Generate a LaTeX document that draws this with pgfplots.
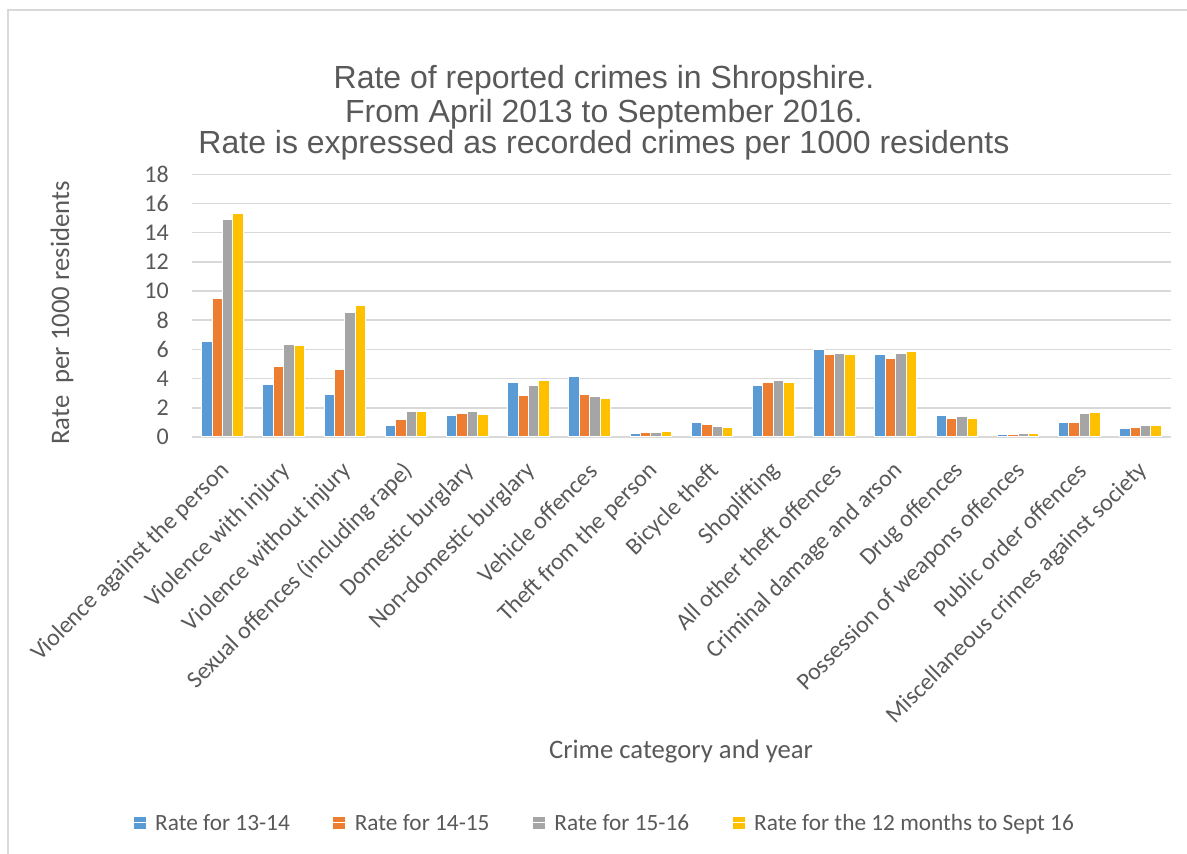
\documentclass[border=0pt]{standalone}
\usepackage{pgfplots}
\pgfplotsset{compat=1.18}
\usepackage{fontspec}
\setmainfont{Carlito}
\newfontfamily\titlefont{Liberation Sans}
\definecolor{cblue}{HTML}{5B9BD5}
\definecolor{corange}{HTML}{ED7D31}
\definecolor{cgray}{HTML}{A5A5A5}
\definecolor{cgold}{HTML}{FFC000}
\definecolor{gridc}{HTML}{D9D9D9}
\definecolor{txt}{HTML}{595959}
\begin{document}
\begin{tikzpicture}[x=1bp,y=1bp]
\path (0,0) rectangle (1187,854);
\draw[gridc, line width=1.5bp] (8,-5) -- (8,844) -- (1195,844);
\node[anchor=base, text=txt, font=\titlefont\fontsize{32bp}{35bp}\selectfont, inner sep=0pt] at (604,765) {Rate of reported crimes in Shropshire.};
\node[anchor=base, text=txt, font=\titlefont\fontsize{32bp}{35bp}\selectfont, inner sep=0pt] at (604,731) {From April 2013 to September 2016.};
\node[anchor=base, text=txt, font=\titlefont\fontsize{32bp}{35bp}\selectfont, inner sep=0pt] at (604,700) {Rate is expressed as recorded crimes per 1000 residents};
\begin{axis}[
  at={(192bp,417bp)}, anchor=south west,
  scale only axis, width=979bp, height=262.7bp,
  ybar=0pt, bar width=0.17,
  xmin=-0.5, xmax=15.5, ymin=0, ymax=18,
  ytick={0,2,...,18},
  xtick={0,...,15},
  xticklabels={Violence against the person, Violence with injury, Violence without injury, Sexual offences (including rape), Domestic burglary, Non-domestic burglary, Vehicle offences, Theft from the person, Bicycle theft, Shoplifting, All other theft offences, Criminal damage and arson, Drug offences, Possession of weapons offences, Public order offences, Miscellaneous crimes against society},
  axis y line*=left, axis x line*=bottom,
  y axis line style={draw=none},
  x axis line style={gridc, line width=1.5bp},
  major tick length=0pt, tick style={draw=none},
  xmajorgrids=false, ymajorgrids=true, grid style={gridc, line width=1.5bp},
  tick label style={text=txt, font=\fontsize{24bp}{28bp}\selectfont},
  /pgf/number format/assume math mode=true,
  yticklabel style={anchor=east, inner sep=0pt, xshift=-23bp},
  xticklabel style={rotate=45, anchor=east, inner sep=0pt, xshift=-18.8bp, yshift=-23.6bp},
  xlabel={Crime category and year},
  ylabel={Rate\ \ per 1000 residents},
  label style={text=txt, font=\fontsize{26.7bp}{30bp}\selectfont},
  xlabel style={at={(axis description cs:0.4995,-1.199)}, anchor=center},
  ylabel style={at={(axis description cs:-0.1328,0.472)}, anchor=center},
  legend columns=4,
  legend style={at={(axis description cs:-0.0603,-1.469)}, anchor=west, draw=none, fill=none, inner sep=0pt, text=txt, font=\fontsize{23.3bp}{27bp}\selectfont, /tikz/every even column/.append style={column sep=41bp}},
  legend image code/.code={\fill[#1, draw=none] (0bp,-6bp) rectangle (12bp,6bp); \path (0bp,0bp) -- (19bp,0bp);},
  every axis plot/.append style={draw=white, line width=1bp},
]
\addplot[fill=cblue] coordinates {(0,6.52) (1,3.57) (2,2.91) (3,0.78) (4,1.49) (5,3.73) (6,4.12) (7,0.27) (8,1.01) (9,3.55) (10,6.00) (11,5.65) (12,1.44) (13,0.18) (14,0.98) (15,0.59)};
\addplot[fill=corange] coordinates {(0,9.47) (1,4.83) (2,4.60) (3,1.21) (4,1.60) (5,2.81) (6,2.91) (7,0.32) (8,0.85) (9,3.71) (10,5.63) (11,5.38) (12,1.24) (13,0.18) (14,0.98) (15,0.62)};
\addplot[fill=cgray] coordinates {(0,14.92) (1,6.34) (2,8.56) (3,1.78) (4,1.74) (5,3.52) (6,2.77) (7,0.34) (8,0.69) (9,3.89) (10,5.72) (11,5.72) (12,1.37) (13,0.25) (14,1.58) (15,0.82)};
\addplot[fill=cgold] coordinates {(0,15.29) (1,6.25) (2,9.02) (3,1.74) (4,1.53) (5,3.89) (6,2.63) (7,0.41) (8,0.64) (9,3.71) (10,5.63) (11,5.84) (12,1.26) (13,0.27) (14,1.69) (15,0.82)};
\legend{Rate for 13-14, Rate for 14-15, Rate for 15-16, Rate for the 12 months to Sept 16}
\end{axis}
\pgfresetboundingbox
\path (0,0) rectangle (1187,854);
\end{tikzpicture}
\end{document}
